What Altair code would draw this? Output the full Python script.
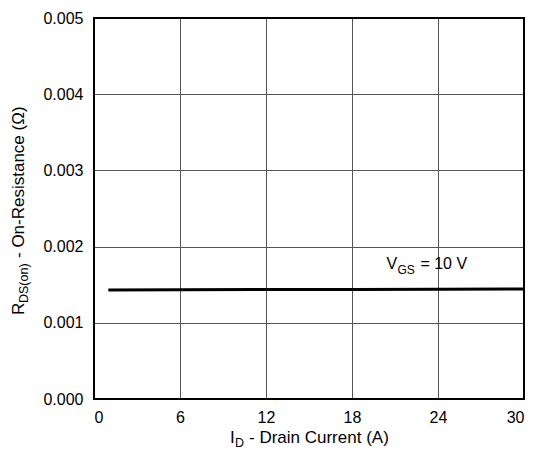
import altair as alt
import pandas as pd

# Data
current_a = [1, 6, 12, 18, 24, 30]
rds_on = [0.001432, 0.001434, 0.001436, 0.001438, 0.001441, 0.001444]
x_ticks = [0, 6, 12, 18, 24, 30]
y_ticks = [0.000, 0.001, 0.002, 0.003, 0.004, 0.005]

W, H = 430, 381
FONT = "Liberation Sans"
FS = 16     # tick labels / annotation
TFS = 17    # axis titles
SUB = 12
TSUB = 12.5

df = pd.DataFrame({"I": current_a, "R": rds_on})

xs = alt.Scale(domain=[0, 30], nice=False, zero=False)
ys = alt.Scale(domain=[0, 0.005], nice=False)

base = alt.Chart(df).encode(
    x=alt.X("I:Q", scale=xs,
            axis=alt.Axis(values=x_ticks, title=None, grid=True, domain=False,
                          ticks=False, labelPadding=10, format="d")),
    y=alt.Y("R:Q", scale=ys,
            axis=alt.Axis(values=y_ticks, title=None, grid=True, domain=False,
                          ticks=False, labelPadding=11, format=".3f")),
)

line = base.mark_line(color="black", strokeWidth=3)

frame = alt.Chart(pd.DataFrame({"a": [0]})).mark_rect(
    filled=False, stroke="black", strokeWidth=2
).encode(x=alt.value(0), x2=alt.value(W), y=alt.value(0), y2=alt.value(H))


def txt(s, **kw):
    return alt.Chart(pd.DataFrame({"t": [s]})).mark_text(
        font=FONT, color="black", **kw
    )

# annotation V_GS = 10 V in data coordinates
ann_df = pd.DataFrame({"x": [20.4], "y": [0.0017]})
def ann(s, dx, dy, size):
    return alt.Chart(ann_df).mark_text(
        text=s, font=FONT, fontSize=size, align="left", baseline="alphabetic",
        dx=dx, dy=dy, color="black"
    ).encode(x=alt.X("x:Q", scale=xs), y=alt.Y("y:Q", scale=ys))

a1 = ann("V", 0, 0, FS)
a2 = ann("GS", 11, 5, SUB)
a3 = ann("= 10 V", 34, 0, FS)

# x-axis title I_D - Drain Current (A)
xt1 = txt("I", fontSize=TFS, align="left", baseline="alphabetic").encode(
    text="t:N", x=alt.value(136), y=alt.value(425))
xt2 = txt("D", fontSize=TSUB, align="left", baseline="alphabetic").encode(
    text="t:N", x=alt.value(141), y=alt.value(429))
xt3 = txt("- Drain Current (A)", fontSize=TFS, align="left", baseline="alphabetic").encode(
    text="t:N", x=alt.value(155), y=alt.value(425))

# y-axis title R_DS(on) - On-Resistance (Ω)
yt1 = txt("R", fontSize=TFS, align="left", baseline="alphabetic", angle=270).encode(
    text="t:N", x=alt.value(-70), y=alt.value(297))
yt2 = txt("DS(on)", fontSize=TSUB, align="left", baseline="alphabetic", angle=270).encode(
    text="t:N", x=alt.value(-66), y=alt.value(285))
yt3 = txt("- On-Resistance (Ω)", fontSize=TFS, align="left", baseline="alphabetic", angle=270).encode(
    text="t:N", x=alt.value(-70), y=alt.value(240))

chart = alt.layer(
    line, frame, a1, a2, a3, xt1, xt2, xt3, yt1, yt2, yt3
).properties(
    width=W, height=H,
    autosize=alt.AutoSizeParams(type="none"),
    padding={"left": 86, "top": 10, "right": 9, "bottom": 51},
    background="white",
).configure_view(stroke=None).configure_axis(
    gridColor="#555555", gridWidth=1, gridOpacity=1,
    labelFont=FONT, labelFontSize=FS, labelColor="black",
)

chart.save("out.html", embed_options={"renderer": "svg", "actions": False})
